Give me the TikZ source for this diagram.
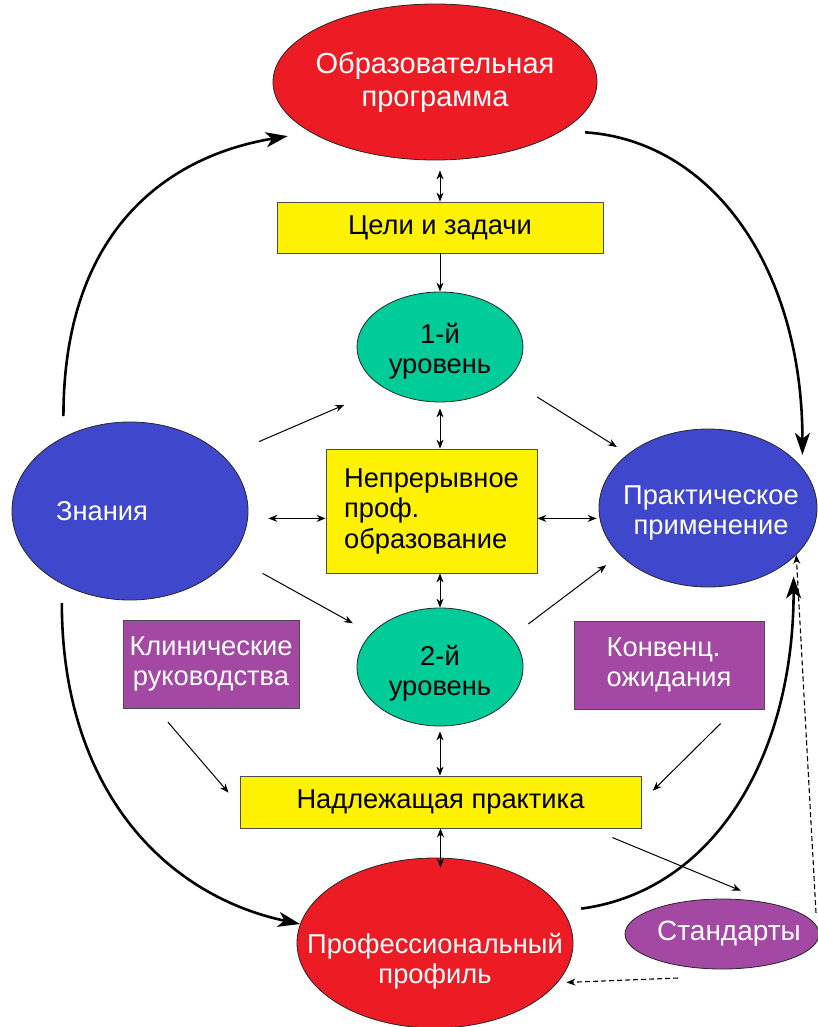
\documentclass[tikz,border=0pt]{standalone}
\usepackage{fontspec}
\setmainfont{Liberation Sans}
\usetikzlibrary{shapes.geometric,arrows.meta}
\definecolor{cred}{HTML}{ED1C24}
\definecolor{cyel}{HTML}{FFF200}
\definecolor{cteal}{HTML}{00CC99}
\definecolor{cblue}{HTML}{3F48CC}
\definecolor{cpurp}{HTML}{A349A4}
\begin{document}
\begin{tikzpicture}[x=1pt,y=-1pt,
  ell/.style={ellipse, draw=black!85, line width=0.8pt, inner sep=0pt},
  box/.style={rectangle, draw=black!70, line width=0.8pt, inner sep=0pt, align=center},
  lbl/.style={align=center, font=\fontsize{27.3}{30.5}\selectfont},
  arr/.style={-{Stealth[length=9pt,width=7pt]}, line width=1pt},
  darr/.style={{Stealth[length=9pt,width=7pt]}-{Stealth[length=9pt,width=7pt]}, line width=1pt},
  bigarr/.style={-{Stealth[length=22pt,width=15pt,inset=6pt]}, line width=2.6pt},
  dasharr/.style={-{Stealth[length=9pt,width=7pt]}, line width=1.1pt, dash pattern=on 5pt off 3pt},
]
\useasboundingbox (0,0) rectangle (818,1027);
\clip (0,0) rectangle (818,1027);
\fill[white] (0,0) rectangle (818,1027);

% nodes
\node[ell, fill=cred, minimum width=324pt, minimum height=156pt,
  label={[lbl,text=white,font=\fontsize{29}{33}\selectfont]center:Образовательная\\программа}] (op) at (435,82) {};
\node[box, fill=cyel, minimum width=326pt, minimum height=51pt, lbl] (cz) at (440,227.5) {Цели и задачи};
\node[ell, fill=cteal, minimum width=166pt, minimum height=110pt,
  label={[lbl,yshift=-4pt]center:1-й\\уровень}] (l1) at (440,347) {};
\node[ell, fill=cblue, minimum width=236pt, minimum height=178pt,
  label={[lbl,text=white,xshift=-28pt]center:Знания}] (zn) at (130,511) {};
\node[box, fill=cyel, minimum width=211pt, minimum height=124pt, lbl, align=left] (nc) at (431.5,511) {Непрерывное\\проф.\\образование};
\node[ell, fill=cblue, minimum width=218pt, minimum height=158pt,
  label={[lbl,text=white,xshift=3pt,yshift=-5pt]center:Практическое\\применение}] (pr) at (708,508) {};
\node[ell, fill=cteal, minimum width=166pt, minimum height=118pt,
  label={[lbl,yshift=-6pt]center:2-й\\уровень}] (l2) at (440,667) {};
\node[box, fill=cpurp, text=white, minimum width=176pt, minimum height=88pt, lbl] (kl) at (211,664) {Клинические\\руководства};
\node[box, fill=cpurp, text=white, minimum width=190pt, minimum height=88pt, lbl, align=left] (kv) at (669,665) {Конвенц.\\ожидания};
\node[box, fill=cyel, minimum width=401pt, minimum height=52pt, lbl] (nl) at (440.5,802) {Надлежащая практика};
\node[ell, fill=cred, minimum width=276pt, minimum height=170pt,
  label={[lbl,text=white,yshift=-18pt]center:Профессиональный\\профиль}] (pf) at (435,943) {};
\node[ell, fill=cpurp, minimum width=194pt, minimum height=70pt,
  label={[lbl,text=white,font=\fontsize{28}{32}\selectfont,xshift=7pt]center:Стандарты}] (st) at (722,934) {};

\coordinate (sd1) at (816,913);
\coordinate (sd2) at (678,978);

% vertical / horizontal thin arrows
\draw[darr, shorten <=10pt] (op.south -| cz.north) -- (cz.north);
\draw[arr] (cz.south) -- (l1.north);
\draw[darr, shorten <=6pt] (l1.south) -- (l1.south |- nc.north);
\draw[darr] (l2.north |- nc.south) -- (l2.north);
\draw[darr, shorten <=5pt] (l2.south) -- (l2.south |- nl.north);
\draw[darr, shorten >=-10pt] (nl.south) -- (nl.south |- pf.north);
\draw[darr, shorten >=20pt] (nc.184) -- (nc.184 -| zn.east);
\draw[darr, shorten >=2pt] (nc.-4) -- (nc.-4 -| pr.west);

% diagonal thin arrows
\draw[arr, shorten <=38pt, shorten >=43pt] (zn.30) -- (l1.216);
\draw[arr, shorten <=34pt, shorten >=13pt] (l1.-25) -- (pr.146);
\draw[arr, shorten <=35pt, shorten >=21pt] (zn.-24.5) -- (l2.154);
\draw[arr, shorten <=21pt, shorten >=17pt] (l2.23) -- (pr.208);
\draw[arr, shorten <=18pt, shorten >=17pt] (kl.219) -- (nl.181);
\draw[arr, shorten <=20pt, shorten >=16pt] (kv.-34) -- (nl.-0.3);
\draw[arr, shorten <=24pt, shorten >=34pt] (nl.-10) -- (st.31);

% thick curved arrows
\draw[bigarr, shorten <=21pt, shorten >=23pt] (zn.132.5) .. controls +(0,-200) and +(-150,25) .. (op.202);
\draw[bigarr, shorten <=23pt, shorten >=13pt] (op.-21) .. controls +(150,10) and +(0,-200) .. (pr.23);
\draw[bigarr, shorten <=19pt] (zn.227.5) .. controls +(0,200) and +(-140,-30) .. (pf.172);
\draw[bigarr, shorten <=18pt, shorten >=19pt] (pf.14.5) .. controls +(150,-20) and +(0,200) .. (pr.-30);

% dashed arrows
\draw[dasharr] (sd1) -- (pr.-28);
\draw[dasharr, shorten >=9pt] (sd2) -- (pf.-18.7);
\end{tikzpicture}
\end{document}
